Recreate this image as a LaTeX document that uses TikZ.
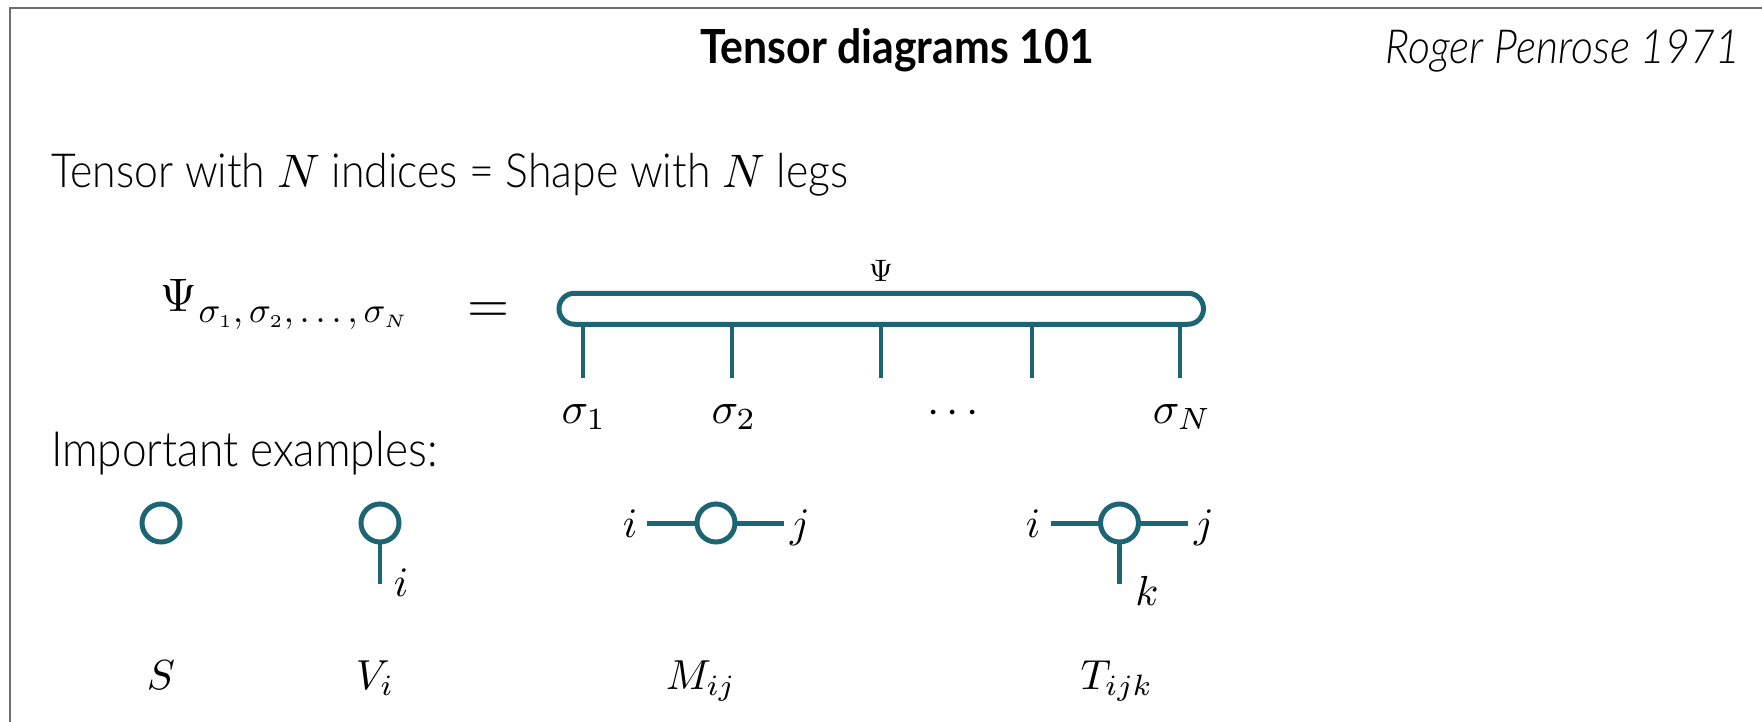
\documentclass[tikz,border=0pt]{standalone}
\usepackage{graphicx}
\usepackage{fontspec}
\setmainfont{Lato}[UprightFont=* Light, ItalicFont=* Light Italic, BoldFont=* Bold, FakeStretch=0.91]
\definecolor{tealc}{RGB}{28,102,116}
\definecolor{framec}{RGB}{110,110,110}
\newcommand{\bodysize}{\fontsize{47}{56}\selectfont}
\newcommand{\mathat}[2]{\scalebox{#1}{\fontsize{10}{12}\selectfont$#2$}}
\begin{document}
\begin{tikzpicture}[x=1pt,y=-1pt,
  every node/.style={inner sep=0pt, outer sep=0pt},
  tline/.style={draw=tealc, line width=5pt},
  tleg/.style={draw=tealc, line width=4.5pt},
  tcirc/.style={circle, draw=tealc, line width=5pt, minimum size=38pt, fill=white},
  body/.style={font=\bodysize}]
\useasboundingbox (0,0) rectangle (1762,722);
\fill[white] (0,0) rectangle (1762,722);
\draw[framec, line width=2pt] (9.5,722) -- (9.5,8.5) -- (1762,8.5);
% header
\node[anchor=base, font=\fontsize{47}{56}\selectfont\bfseries] (title) at (897,64) {Tensor diagrams 101};
\node[anchor=base east, font=\fontsize{47}{56}\selectfont\itshape] (author) at (1740,64) {Roger Penrose 1971};
\node[anchor=base west, body] (line1) at (51,188) {Tensor with \mathat{4.7}{N} indices = Shape with \mathat{4.7}{N} legs};
\node[anchor=base west, font=\fontsize{48.6}{58}\selectfont] (imp) at (51,466) {Important examples:};
% Psi equation
\node[anchor=base west] (psisub) at (160,311) {\mathat{4.7}{\Psi}\hspace{2pt}\raisebox{-11pt}{\mathat{3.6}{\sigma_{\scriptscriptstyle 1},\sigma_{\scriptscriptstyle 2},\ldots,\sigma_{\scriptscriptstyle N}}}};
\node[anchor=center] (eq) at (488.5,312.5) {\mathat{5.4}{=}};
\node[draw=tealc, line width=5pt, rounded corners=15.5pt, minimum width=644.5pt, minimum height=31pt] (bar) at (881.25,308.75) {};
\node[anchor=base] (psitop) at (881,281) {\mathat{3.1}{\Psi}};
\foreach \n/\x in {1/583,2/732,3/881,4/1032,5/1180}{
  \coordinate (top\n) at (\x,324.25);
  \coordinate (end\n) at (\x,378);
  \draw[tleg] (top\n) -- (end\n);
}
\node[anchor=base] (s1) at (584,423) {\mathat{4.4}{\sigma_1}};
\node[anchor=base] (s2) at (734,423) {\mathat{4.4}{\sigma_2}};
\node[anchor=base] (sdots) at (953,423) {\mathat{4.4}{\cdots}};
\node[anchor=base] (sN) at (1182,423) {\mathat{4.4}{\sigma_N}};
% examples
\node[tcirc] (cS) at (161,523) {};
\node[tcirc] (cV) at (380,523) {};
\coordinate (vend) at (380,584);
\draw[tleg] (cV) -- (vend);
\node[anchor=base] (vi) at (401,596) {\mathat{4.2}{i}};
\node[tcirc] (cM) at (716,523) {};
\coordinate (ml) at (647,523);
\coordinate (mr) at (784,523);
\draw[tline] (ml) -- (cM);
\draw[tline] (cM) -- (mr);
\node[anchor=base] (mi) at (630,537) {\mathat{4.2}{i}};
\node[anchor=base] (mj) at (800,537) {\mathat{4.2}{j}};
\node[tcirc] (cT) at (1119.5,523) {};
\coordinate (tl) at (1051,523);
\coordinate (tr) at (1188,523);
\coordinate (tb) at (1119.5,584);
\draw[tline] (tl) -- (cT);
\draw[tline] (cT) -- (tr);
\draw[tleg] (cT) -- (tb);
\node[anchor=base] (ti) at (1033,537) {\mathat{4.2}{i}};
\node[anchor=base] (tj) at (1204,537) {\mathat{4.2}{j}};
\node[anchor=base] (tk) at (1147,605) {\mathat{4.2}{k}};
% names
\node[anchor=base] (lS) at (161,689) {\mathat{4.2}{S}};
\node[anchor=base] (lV) at (375,689) {\mathat{4.2}{V_i}};
\node[anchor=base] (lM) at (701,689) {\mathat{4.2}{M_{ij}}};
\node[anchor=base] (lT) at (1117,689) {\mathat{4.2}{T_{ijk}}};
\end{tikzpicture}
\end{document}
